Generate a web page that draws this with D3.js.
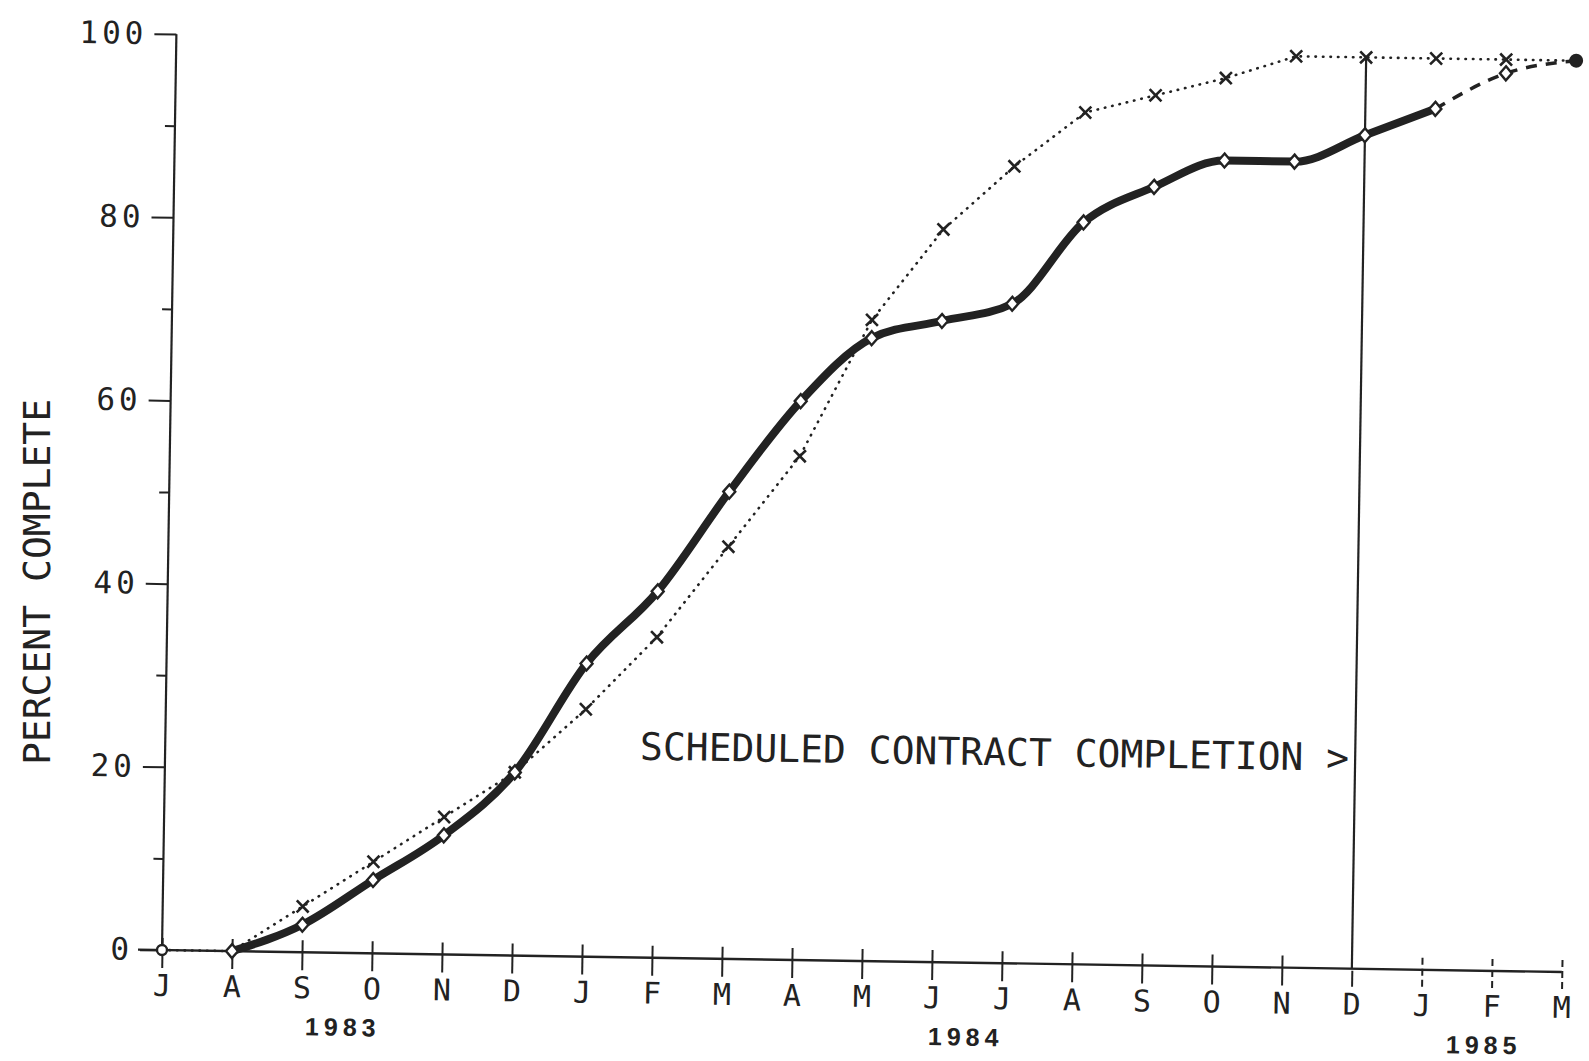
<!DOCTYPE html>
<html>
<head>
<meta charset="utf-8">
<script src="https://cdn.jsdelivr.net/npm/d3@7"></script>
<style>
  body { margin: 0; background: #fff; }
  text { font-family: "DejaVu Sans Mono", monospace; fill: #222; }
  text.year { font-family: "Liberation Sans", Arial, sans-serif; font-weight: bold; }
</style>
</head>
<body>
<script>
// month ticks, Jul 1983 .. Mar 1985
var months = ["J","A","S","O","N","D","J","F","M","A","M","J","J","A","S","O","N","D","J","F","M"];
var years = ["1983", "1984", "1985"];
var yearAt = [2.6, 11.5, 18.9];   // month index under which the year sits

// planned progress (dotted, x markers)
var planned = [0,0,5,10,15,20,27,35,45,55,70,80,87,93,95,97,99.5,99.5,99.5,99.5,99.5];
// actual progress, Aug 1983 .. Jan 1985 (thick line, diamonds)
var actualIdx = [1,2,3,4,5,6,7,8,9,10,11,12,13,14,15,16,17,18];
var actualVal = [0,3,8,13,20,32,40,51,61,68,70,72,81,85,88,88,91,94];
// projected (dashed)
var projIdx = [18,19,20];
var projVal = [94,98,99.5];

var majorTicks = [0,20,40,60,80,100];
var minorTicks = [10,30,50,70,90];
var completionIdx = 17;   // Dec 1984

var svgWidth = 1589, svgHeight = 1061;
var ink = "#222";

var svg = d3.select("body").append("svg")
    .attr("width", svgWidth)
    .attr("height", svgHeight);

var xScale = d3.scaleLinear().domain([0, 20]).range([0, 1400]);
var yScale = d3.scaleLinear().domain([0, 100]).range([0, -916]);

// the scanned plot is slightly tilted
var chart = svg.append("g")
    .attr("transform", "translate(162,950) rotate(0.9)");

// y axis
var yMajor = d3.axisLeft(yScale).tickValues(majorTicks).tickSize(22).tickPadding(7)
    .tickFormat(d => d);
var yMinor = d3.axisLeft(yScale).tickValues(minorTicks).tickSize(10).tickFormat("");

chart.append("g").attr("color", ink).call(yMajor)
    .call(g => g.select(".domain").remove())
    .call(g => g.selectAll("line").attr("stroke-width", 2))
    .call(g => g.selectAll("text").attr("font-size", 31).attr("letter-spacing", 4)
        .attr("font-family", "DejaVu Sans Mono"));
chart.append("g").attr("color", ink).call(yMinor)
    .call(g => g.select(".domain").remove())
    .call(g => g.selectAll("line").attr("stroke-width", 2));

chart.append("line")
    .attr("x1", 0).attr("x2", 0)
    .attr("y1", yScale(0)).attr("y2", yScale(100))
    .attr("stroke", ink).attr("stroke-width", 2.2);

// x axis
var xAxis = d3.axisBottom(xScale).tickValues(d3.range(months.length))
    .tickFormat(i => months[i]).tickSize(18);

chart.append("g").attr("color", ink).call(xAxis)
    .call(g => g.select(".domain").remove())
    .call(g => g.selectAll("line")
        .attr("y1", d => d === completionIdx ? 2 : -12)
        .attr("stroke-width", 2)
        .attr("stroke-dasharray", d => d > completionIdx ? "7,4" : null))
    .call(g => g.selectAll("text").attr("y", 46).attr("dy", 0)
        .attr("font-size", 30).attr("font-family", "DejaVu Sans Mono"));

chart.append("line")
    .attr("x1", -24).attr("x2", xScale(20))
    .attr("y1", 0).attr("y2", 0)
    .attr("stroke", ink).attr("stroke-width", 2.4);

// year labels
chart.selectAll(".year").data(years).enter().append("text")
    .attr("class", "year")
    .attr("x", (d, i) => xScale(yearAt[i]))
    .attr("y", 83)
    .attr("text-anchor", "middle")
    .attr("font-size", 25)
    .attr("letter-spacing", 5)
    .text(d => d);

// scheduled completion line
chart.append("line")
    .attr("x1", xScale(completionIdx)).attr("x2", xScale(completionIdx))
    .attr("y1", yScale(0)).attr("y2", yScale(planned[completionIdx]))
    .attr("stroke", ink).attr("stroke-width", 2.2);

chart.append("text")
    .attr("x", xScale(completionIdx) - 6)
    .attr("y", yScale(21.6))
    .attr("text-anchor", "end")
    .attr("font-size", 38)
    .text("SCHEDULED CONTRACT COMPLETION >");

// planned line
var plannedLine = d3.line()
    .x((d, i) => xScale(i))
    .y(d => yScale(d));

chart.append("path")
    .datum(planned)
    .attr("d", plannedLine)
    .attr("fill", "none")
    .attr("stroke", ink)
    .attr("stroke-width", 2.6)
    .attr("stroke-linecap", "round")
    .attr("stroke-dasharray", "0.5,7");

// actual line
var actualLine = d3.line()
    .x(d => xScale(d[0]))
    .y(d => yScale(d[1]))
    .curve(d3.curveMonotoneX);

chart.append("path")
    .datum(d3.zip(actualIdx, actualVal))
    .attr("d", actualLine)
    .attr("fill", "none")
    .attr("stroke", ink)
    .attr("stroke-width", 8)
    .attr("stroke-linecap", "round");

chart.append("path")
    .datum(d3.zip(projIdx, projVal))
    .attr("d", actualLine)
    .attr("fill", "none")
    .attr("stroke", ink)
    .attr("stroke-width", 3.5)
    .attr("stroke-dasharray", "11,9");

// x markers on planned
var xMark = "M-6,-6L6,6M-6,6L6,-6";
chart.selectAll(".px").data(planned.slice(2, 20)).enter().append("path")
    .attr("class", "px")
    .attr("transform", (d, i) => `translate(${xScale(i + 2)},${yScale(d)})`)
    .attr("d", xMark)
    .attr("stroke", ink)
    .attr("stroke-width", 2.6);

// diamonds on actual
var diamond = "M0,-7L6,0L0,7L-6,0Z";
chart.selectAll(".ad").data(d3.zip(actualIdx.concat([19]), actualVal.concat([projVal[1]]))).enter()
    .append("path")
    .attr("class", "ad")
    .attr("transform", d => `translate(${xScale(d[0])},${yScale(d[1])})`)
    .attr("d", diamond)
    .attr("fill", "#fff")
    .attr("stroke", ink)
    .attr("stroke-width", 2.4);

// origin circle and end dot
chart.append("circle")
    .attr("cx", xScale(0)).attr("cy", yScale(planned[0]))
    .attr("r", 5).attr("fill", "#fff")
    .attr("stroke", ink).attr("stroke-width", 2.4);

chart.append("circle")
    .attr("cx", xScale(20)).attr("cy", yScale(planned[20]))
    .attr("r", 7).attr("fill", ink);

// y axis title
svg.append("text")
    .attr("transform", "translate(50,582) rotate(-90)")
    .attr("text-anchor", "middle")
    .attr("font-size", 38)
    .text("PERCENT COMPLETE");
</script>
</body>
</html>
